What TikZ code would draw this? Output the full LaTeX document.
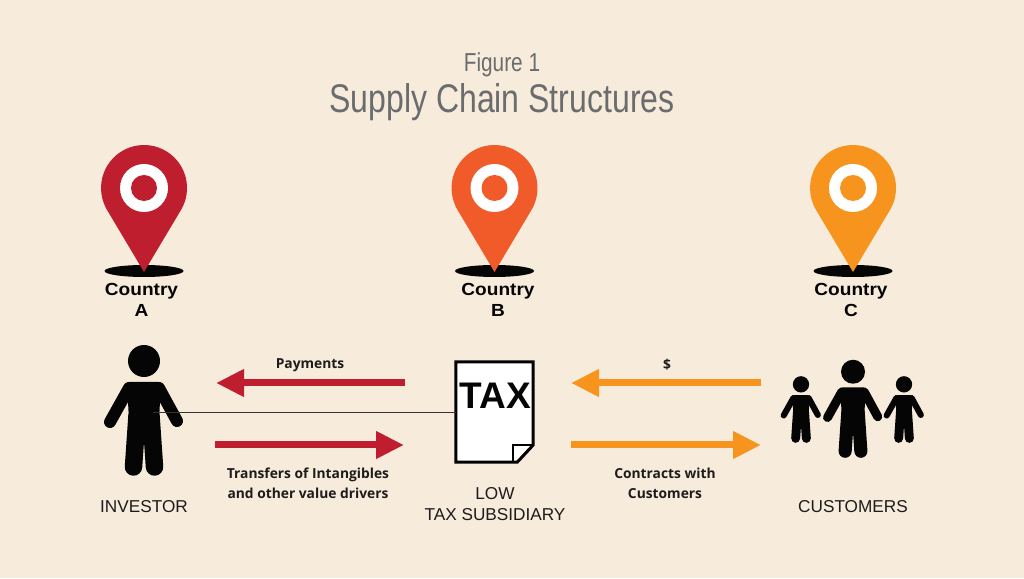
\documentclass[tikz,border=0pt]{standalone}
\usepackage{fontspec}
\setmainfont{Liberation Sans}
\newfontfamily\labelfont{Open Sans}
\usepackage{tikz}
\usetikzlibrary{arrows.meta}
\usetikzlibrary{calc}
\definecolor{paper}{HTML}{F7EBDC}
\definecolor{countrya}{HTML}{BE1E2D}
\definecolor{countryb}{HTML}{F15A29}
\definecolor{countryc}{HTML}{F7941E}
\definecolor{titlegray}{HTML}{6B6C6E}
\definecolor{figure}{HTML}{050505}
\tikzset{
	pics/pin/.style = {code = {
		\fill [figure] (0,0) ellipse [x radius = 39.5, y radius = 6];
		\fill [#1] (0,-1) -- (36.8,60.7) arc [start angle = -31.2, end angle = 211.2, radius = 43] -- cycle;
		\fill [white] (0,83) circle [radius = 24];
		\fill [#1] (0,83) circle [radius = 13];
	}},
	pics/person/.style = {code = {
		\begin{scope}[scale = #1]
			\fill [figure] (0,115) circle [radius = 16];
			\fill [figure, rounded corners = 2] (-17,94) -- (17,94) -- (15,55) -- (-15,55) -- cycle;
			\draw [figure, line width = 17.5*#1, line cap = round] (-10.5,9) -- (-7,60);
			\draw [figure, line width = 17.5*#1, line cap = round] (10.5,9) -- (7,60);
			\draw [figure, line width = 12*#1, line cap = round] (-15,88) -- (-34,54);
			\draw [figure, line width = 12*#1, line cap = round] (15,88) -- (33,55);
		\end{scope}
	}},
	flow/.style = {line width = 7, -{Triangle[length = 28, width = 26]}},
	country/.style = {font = \bfseries\fontsize{17.5}{20.5}\selectfont, xscale = 1.09, align = center, text = figure},
	caption/.style = {font = \fontsize{17.2}{21}\selectfont, align = center, text = figure!90!paper},
	flowlabel/.style = {font = \labelfont\bfseries\fontsize{13.8}{20}\selectfont, align = center, text = figure!90!paper},
	taxdoc/.style = {minimum width = 77, minimum height = 100, inner sep = 0}
}

\begin{document}
\begin{tikzpicture}[x = 1pt, y = 1pt]
	\useasboundingbox (0,0) rectangle (1024,578);
	\fill [paper] (0,0) rectangle (1024,578);

	\node [font = \fontsize{26}{32}\selectfont, xscale = 0.8, text = titlegray] (figtitle) at (502,513) {Figure 1};
	\node [font = \fontsize{40}{46}\selectfont, xscale = 0.8, text = titlegray] (maintitle) at (502,475.5) {Supply Chain Structures};

	\pic at (144,307) {pin = countrya};
	\pic at (494.5,307) {pin = countryb};
	\pic at (853,307) {pin = countryc};
	\node [country] (countryA) at (141.5,278) {Country\\A};
	\node [country] (countryB) at (498,278) {Country\\B};
	\node [country] (countryC) at (851,278) {Country\\C};

	\pic at (144,102) {person = 1};
	\pic at (853,120) {person = 0.75};
	\pic at (801,135) {person = 0.51};
	\pic at (904,135) {person = 0.51};

	% tax sheet
	\node [taxdoc] (subsidiary) at (494.5,166) {};
	\draw [line width = 3, fill = white, line join = miter]
		(subsidiary.north west) -- (subsidiary.north east)
		-- ($(subsidiary.east) + (0,-33)$) -- ($(subsidiary.south east) + (-16,0)$)
		-- (subsidiary.south west) -- cycle;
	\draw [line width = 1.8] ($(subsidiary.south east) + (-20,0)$) -- ($(subsidiary.east) + (-20,-33)$) -- ($(subsidiary.east) + (0,-33)$);
	\node [font = \bfseries\fontsize{37}{37}\selectfont, text = figure, inner sep = 0] (taxtext) at (495.5,182) {TAX};

	\coordinate (investor) at (153,166);
	\draw [line width = 0.7, figure!80!paper] (investor) -- (subsidiary.west);

	\coordinate (payA) at (405,195);
	\coordinate (payB) at (216,195);
	\coordinate (transA) at (215,133);
	\coordinate (transB) at (404,133);
	\coordinate (cashA) at (761,195);
	\coordinate (cashB) at (571,195);
	\coordinate (contractA) at (571,133);
	\coordinate (contractB) at (761,133);
	\draw [flow, countrya] (payA) -- (payB);
	\draw [flow, countrya] (transA) -- (transB);
	\draw [flow, countryc] (cashA) -- (cashB);
	\draw [flow, countryc] (contractA) -- (contractB);

	\node [flowlabel] (payments) at (310,213) {Payments};
	\node [flowlabel] (transfers) at (308,95) {Transfers of Intangibles\\and other value drivers};
	\node [flowlabel] (dollar) at (667,213) {\$};
	\node [flowlabel] (contracts) at (665,95) {Contracts with\\Customers};

	\node [caption] (investorlabel) at (144,71) {INVESTOR};
	\node [caption] (subsidiarylabel) at (495,74) {LOW\\TAX SUBSIDIARY};
	\node [caption] (customerlabel) at (853,71) {CUSTOMERS};
\end{tikzpicture}
\end{document}
